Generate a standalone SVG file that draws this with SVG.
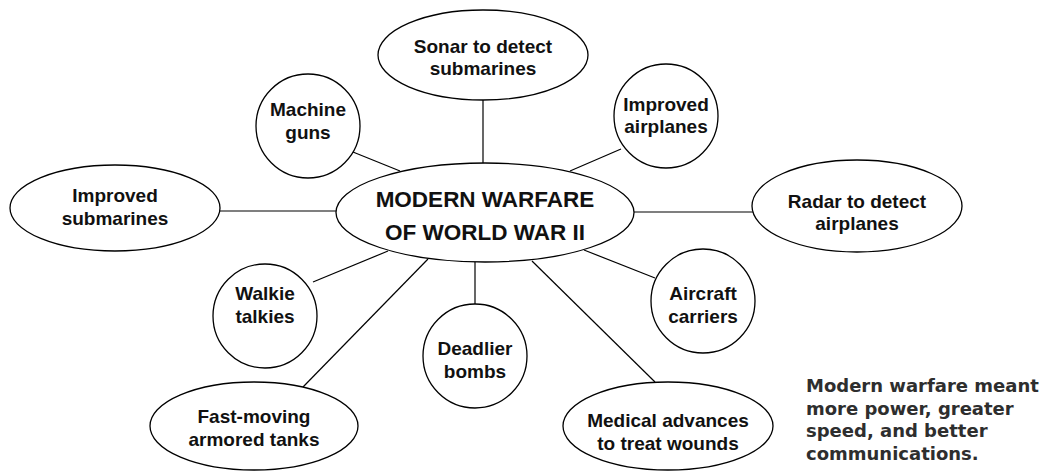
<svg xmlns="http://www.w3.org/2000/svg" width="1049" height="472" viewBox="0 0 1049 472">
<style>
.n{fill:#fff;stroke:#000;stroke-width:1.3}
.t{font-family:"Liberation Sans",Arial,sans-serif;font-weight:bold;font-size:19px;text-anchor:middle;fill:#111}
.c{font-size:22.5px}
.note{font-family:"DejaVu Sans","Liberation Sans",sans-serif;font-weight:bold;font-size:18px;fill:#2e2e2e}
#connectors line{stroke:#000;stroke-width:1.2}
</style>
<rect width="1049" height="472" fill="#fff"/>
<g id="connectors">
<line x1="483" y1="100" x2="483" y2="163"/>
<line x1="348" y1="150" x2="400" y2="171"/>
<line x1="621" y1="149" x2="570" y2="171"/>
<line x1="219" y1="211" x2="336" y2="211"/>
<line x1="634" y1="212" x2="753" y2="212"/>
<line x1="313" y1="282" x2="388" y2="251"/>
<line x1="303" y1="387" x2="428" y2="259"/>
<line x1="475" y1="262" x2="475" y2="305"/>
<line x1="655" y1="278" x2="584" y2="250"/>
<line x1="655" y1="382" x2="532" y2="261"/>
</g>
<g id="center">
<ellipse class="n" cx="485" cy="212.5" rx="149" ry="49.5"/>
<text class="t c" x="485" y="207">MODERN WARFARE</text>
<text class="t c" x="485" y="240">OF WORLD WAR II</text>
</g>
<g id="sonar">
<ellipse class="n" cx="483" cy="55" rx="105" ry="45"/>
<text class="t" x="483" y="53">Sonar to detect</text>
<text class="t" x="483" y="75">submarines</text>
</g>
<g id="machine-guns">
<circle class="n" cx="308" cy="126" r="52"/>
<text class="t" x="308" y="116">Machine</text>
<text class="t" x="308" y="139">guns</text>
</g>
<g id="improved-airplanes">
<circle class="n" cx="666" cy="116" r="52"/>
<text class="t" x="666" y="111">Improved</text>
<text class="t" x="666" y="133">airplanes</text>
</g>
<g id="improved-submarines">
<ellipse class="n" cx="115" cy="208" rx="105" ry="43"/>
<text class="t" x="115" y="202">Improved</text>
<text class="t" x="115" y="225">submarines</text>
</g>
<g id="radar">
<ellipse class="n" cx="857" cy="206" rx="105" ry="46"/>
<text class="t" x="857" y="208">Radar to detect</text>
<text class="t" x="857" y="230">airplanes</text>
</g>
<g id="walkie-talkies">
<circle class="n" cx="265" cy="316" r="52"/>
<text class="t" x="265" y="300">Walkie</text>
<text class="t" x="265" y="323">talkies</text>
</g>
<g id="deadlier-bombs">
<circle class="n" cx="475" cy="356" r="52"/>
<text class="t" x="475" y="355">Deadlier</text>
<text class="t" x="475" y="378">bombs</text>
</g>
<g id="aircraft-carriers">
<circle class="n" cx="703" cy="301" r="52"/>
<text class="t" x="703" y="300">Aircraft</text>
<text class="t" x="703" y="323">carriers</text>
</g>
<g id="tanks">
<ellipse class="n" cx="254" cy="426" rx="104" ry="44"/>
<text class="t" x="254" y="423">Fast-moving</text>
<text class="t" x="254" y="446">armored tanks</text>
</g>
<g id="medical">
<ellipse class="n" cx="668" cy="426" rx="105" ry="44"/>
<text class="t" x="668" y="427">Medical advances</text>
<text class="t" x="668" y="450">to treat wounds</text>
</g>
<g id="note">
<text class="note" x="806" y="392">Modern warfare meant</text>
<text class="note" x="806" y="414.5">more power, greater</text>
<text class="note" x="806" y="437">speed, and better</text>
<text class="note" x="806" y="459.5">communications.</text>
</g>
</svg>
